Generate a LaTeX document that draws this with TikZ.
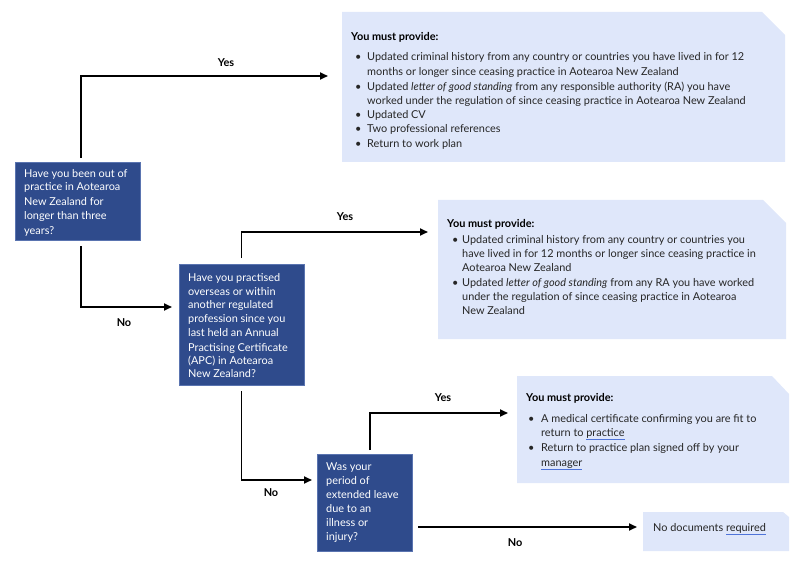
\documentclass[tikz,border=0pt]{standalone}
\usepackage{fontspec}
\setmainfont{Lato}
\usetikzlibrary{arrows.meta,calc,fit}
\definecolor{qblue}{HTML}{2F4B8C}
\definecolor{qedge}{HTML}{5A74B0}
\definecolor{ibg}{HTML}{DFE7FA}
\definecolor{itext}{HTML}{262626}
\definecolor{ulblue}{HTML}{4F74D9}
\newcommand\txt[4]{\node[#1] (#2) at (#3) {#4};}
\newcommand\wavy[1]{{\color{ulblue}$\underline{\hbox{\color{itext}#1}}$}}
\begin{document}
\begin{tikzpicture}[x=1pt,y=-1pt,
  qbox/.style={fill=qblue, draw=qedge, line width=0.6pt, inner sep=0pt, outer sep=0pt},
  ibox/.style={inner sep=0pt, outer sep=0pt},
  qt/.style={font=\fontsize{10.9}{12}\selectfont, text=white, anchor=base west, inner sep=0pt},
  it/.style={font=\fontsize{10.9}{12}\selectfont, text=itext, anchor=base west, inner sep=0pt},
  ih/.style={font=\fontsize{10.9}{12}\selectfont\bfseries, text=black, anchor=base west, inner sep=0pt},
  lab/.style={font=\fontsize{10.9}{12}\selectfont\bfseries, text=black, anchor=center, inner sep=0pt},
  arr/.style={line width=1.8pt, -{Triangle[length=8pt,width=7pt]}},
]
\useasboundingbox (0,0) rectangle (800,564);
% question boxes
\node[qbox, fit={(15,162) (140,240)}] (q1) {};
\node[qbox, fit={(179,264) (304,385)}] (q2) {};
\node[qbox, fit={(317,454) (412,551)}] (q3) {};
% info boxes
\node[ibox, fit={(342,12) (785,162)}] (info1) {};
\node[ibox, fit={(438,200) (786,339)}] (info2) {};
\node[ibox, fit={(517,376) (789,483)}] (info3) {};
\node[ibox, fit={(643,512) (789,551)}] (info4) {};
\fill[ibg] (info1.south west) |- ($(info1.north east)+(-23,0)$) -- ($(info1.north east)+(0,23)$) -- (info1.south east) -- cycle;
\fill[ibg] (info2.south west) |- ($(info2.north east)+(-23,0)$) -- ($(info2.north east)+(0,23)$) -- (info2.south east) -- cycle;
\fill[ibg] (info3.south west) |- ($(info3.north east)+(-17,0)$) -- ($(info3.north east)+(0,18)$) -- (info3.south east) -- cycle;
\fill[ibg] (info4.south west) |- ($(info4.north east)+(-6,0)$) -- ($(info4.north east)+(0,5)$) -- (info4.south east) -- cycle;
% Q1 text
\txt{qt}{q1a}{24,178}{Have you been out of}
\txt{qt}{q1b}{24,191}{practice in Aotearoa}
\txt{qt}{q1c}{24,206}{New Zealand for}
\txt{qt}{q1d}{24,219}{longer than three}
\txt{qt}{q1e}{24,234}{years?}
% Q2 text
\txt{qt}{q2a}{188,281}{Have you practised}
\txt{qt}{q2b}{188,295}{overseas or within}
\txt{qt}{q2c}{188,308}{another regulated}
\txt{qt}{q2d}{188,322}{profession since you}
\txt{qt}{q2e}{188,336}{last held an Annual}
\txt{qt}{q2f}{188,351}{Practising Certificate}
\txt{qt}{q2g}{188,364}{(APC) in Aotearoa}
\txt{qt}{q2h}{188,377}{New Zealand?}
% Q3 text
\txt{qt}{q3a}{326,470}{Was your}
\txt{qt}{q3b}{326,484}{period of}
\txt{qt}{q3c}{326,498}{extended leave}
\txt{qt}{q3d}{326,512}{due to an}
\txt{qt}{q3e}{326,526}{illness or}
\txt{qt}{q3f}{326,540}{injury?}
% info1 text
\txt{ih}{i1h}{351,41}{You must provide:}
\txt{it}{i1b1}{355,61}{\textbullet}
\txt{it}{i1a}{367,61}{Updated criminal history from any country or countries you have lived in for 12}
\txt{it}{i1b}{367,76}{months or longer since ceasing practice in Aotearoa New Zealand}
\txt{it}{i1b2}{355,91}{\textbullet}
\txt{it}{i1c}{367,91}{Updated \textit{letter of good standing} from any responsible authority (RA) you have}
\txt{it}{i1d}{367,105}{worked under the regulation of since ceasing practice in Aotearoa New Zealand}
\txt{it}{i1b3}{355,119}{\textbullet}
\txt{it}{i1e}{367,119}{Updated CV}
\txt{it}{i1b4}{355,133}{\textbullet}
\txt{it}{i1f}{367,133}{Two professional references}
\txt{it}{i1b5}{355,148}{\textbullet}
\txt{it}{i1g}{367,148}{Return to work plan}
% info2 text
\txt{ih}{i2h}{447,227}{You must provide:}
\txt{it}{i2b1}{452,243}{\textbullet}
\txt{it}{i2a}{462,243}{Updated criminal history from any country or countries you}
\txt{it}{i2b}{462,257}{have lived in for 12 months or longer since ceasing practice in}
\txt{it}{i2c}{462,271}{Aotearoa New Zealand}
\txt{it}{i2b2}{452,286}{\textbullet}
\txt{it}{i2d}{462,286}{Updated \textit{letter of good standing} from any RA you have worked}
\txt{it}{i2e}{462,300}{under the regulation of since ceasing practice in Aotearoa}
\txt{it}{i2f}{462,314}{New Zealand}
% info3 text
\txt{ih}{i3h}{526,401}{You must provide:}
\txt{it}{i3b1}{528,422}{\textbullet}
\txt{it}{i3a}{541,422}{A medical certificate confirming you are fit to}
\txt{it}{i3b}{541,436}{return to \wavy{practice}}
\txt{it}{i3b2}{528,451}{\textbullet}
\txt{it}{i3c}{541,451}{Return to practice plan signed off by your}
\txt{it}{i3d}{541,466}{\wavy{manager}}
% info4 text
\txt{it}{i4a}{653,531}{No documents \wavy{required}}
% connectors
\draw[arr, shorten <=4pt, shorten >=14pt] ($(q1.north)+(3.5,0)$) |- ($(info1.north west)+(0,64)$);
\draw[arr, shorten <=6pt, shorten >=7pt] ($(q1.south)+(3.5,0)$) |- ($(q2.north west)+(0,43)$);
\draw[arr, shorten <=6pt, shorten >=10pt] (q2.north) |- ($(info2.north west)+(0,32)$);
\draw[arr, shorten <=6pt, shorten >=5pt] (q2.south) |- ($(q3.north west)+(0,26)$);
\draw[arr, shorten <=4pt, shorten >=9pt] ($(q3.north)+(5.5,0)$) |- ($(info3.north west)+(0,37)$);
\draw[arr, shorten <=6pt, shorten >=6pt] ($(q3.north east)+(0,73)$) -- ($(info4.north west)+(0,15)$);
% labels
\node[lab] (y1) at (226,63) {Yes};
\node[lab] (n1) at (124,323) {No};
\node[lab] (y2) at (345,217) {Yes};
\node[lab] (n2) at (271,493) {No};
\node[lab] (y3) at (443,398) {Yes};
\node[lab] (n3) at (515,543) {No};
\end{tikzpicture}
\end{document}
